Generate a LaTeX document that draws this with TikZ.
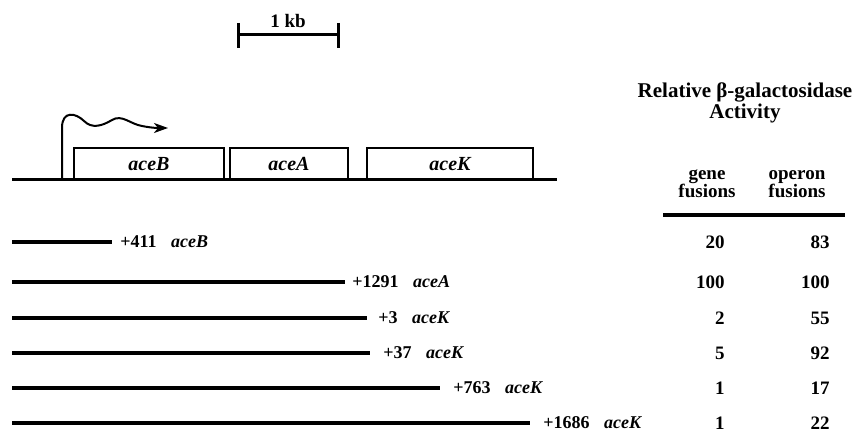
\documentclass[tikz,border=0pt]{standalone}
\usepackage{fontspec}
\setmainfont{Liberation Serif}
\usetikzlibrary{arrows.meta,positioning}

\tikzset{
  txt/.style={font=\fontsize{9}{10.5}\selectfont\bfseries, inner sep=0pt},
  gene/.style={font=\fontsize{10}{12}\selectfont\bfseries\itshape, inner sep=0pt},
  genebox/.style={gene, draw, line width=1pt, minimum height=16pt},
  fusion/.style={line width=2pt},
  fuslabel/.style={txt},
  num/.style={txt, font=\fontsize{9.5}{11}\selectfont\bfseries, anchor=east},
  colhead/.style={txt, align=center, font=\fontsize{9.5}{9}\selectfont\bfseries},
}
\newcommand{\fus}[2]{#1\hspace{0.8em}\textit{#2}}

\begin{document}
\begin{tikzpicture}[x=0.5pt, y=-0.5pt]
				\useasboundingbox (0,0) rectangle (859,432);
				
				% scale bar
				\draw[line width=1.5pt] (238,23) -- (238,48) (238,35) -- (338,35) (338,23) -- (338,48);
				\node[txt, font=\fontsize{9.5}{11}\selectfont\bfseries] (kb) at (288,21) {1 kb};
				
				% operon map
				\draw[line width=1.5pt] (12,180) -- (557,180);
				\node[genebox, minimum width=75pt] (aceB) at (149,164) {aceB};
				\node[genebox, minimum width=59pt] (aceA) at (289,164) {aceA};
				\node[genebox, minimum width=83pt] (aceK) at (450,164) {aceK};
				
				% promoter
				\draw[line width=1pt, -{Stealth[length=7pt,width=5pt,inset=2pt]}]
					(62,180) -- (62,128) .. controls (62,110) and (76,113) .. (84,121)
					.. controls (92,129) and (102,126) .. (112,120)
					.. controls (122,114) and (130,124) .. (142,126)
					.. controls (152,128) and (158,128) .. (168,128);
				
				% table head
				\node[txt, align=center, font=\fontsize{10.5}{10.5}\selectfont\bfseries] (head) at (745,103) {Relative β-galactosidase\\Activity};
				\node[colhead] (genecol) at (707,184) {gene\\fusions};
				\node[colhead] (opcol) at (797,184) {operon\\fusions};
				\coordinate (ruleL) at (663,215);
				\coordinate (ruleR) at (845,215);
				\draw[line width=1.8pt] (ruleL) -- (ruleR);
				
				% fusions
				\coordinate (s1) at (12,242);  \coordinate (e1) at (112,242);
				\coordinate (s2) at (12,282);  \coordinate (e2) at (345,282);
				\coordinate (s3) at (12,318);  \coordinate (e3) at (367,318);
				\coordinate (s4) at (12,353);  \coordinate (e4) at (370,353);
				\coordinate (s5) at (12,388);  \coordinate (e5) at (440,388);
				\coordinate (s6) at (12,423);  \coordinate (e6) at (530,423);
				
				\draw[fusion] (s1) -- (e1);
				\draw[fusion] (s2) -- (e2);
				\draw[fusion] (s3) -- (e3);
				\draw[fusion] (s4) -- (e4);
				\draw[fusion] (s5) -- (e5);
				\draw[fusion] (s6) -- (e6);
				
				\node[fuslabel, right=4pt of e1]   (f1) {\fus{+411}{aceB}};
				\node[fuslabel, right=3.5pt of e2] (f2) {\fus{+1291}{aceA}};
				\node[fuslabel, right=5.5pt of e3] (f3) {\fus{+3}{aceK}};
				\node[fuslabel, right=6.5pt of e4] (f4) {\fus{+37}{aceK}};
				\node[fuslabel, right=6.5pt of e5] (f5) {\fus{+763}{aceK}};
				\node[fuslabel, right=6.5pt of e6] (f6) {\fus{+1686}{aceK}};
				
				% activities
				\node[num] (g1) at (725,242) {20};   \node[num] (o1) at (830,242) {83};
				\node[num] (g2) at (725,282) {100};  \node[num] (o2) at (830,282) {100};
				\node[num] (g3) at (725,318) {2};    \node[num] (o3) at (830,318) {55};
				\node[num] (g4) at (725,353) {5};    \node[num] (o4) at (830,353) {92};
				\node[num] (g5) at (725,388) {1};    \node[num] (o5) at (830,388) {17};
				\node[num] (g6) at (725,423) {1};    \node[num] (o6) at (830,423) {22};
				
			\end{tikzpicture}
\end{document}
